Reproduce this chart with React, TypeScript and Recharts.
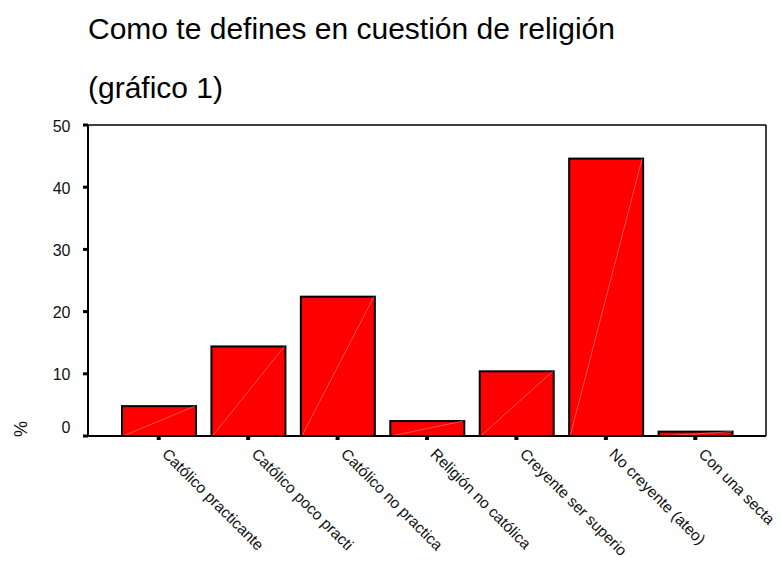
import React from 'react';
import { BarChart, Bar, XAxis, YAxis, CartesianGrid } from 'recharts';

const categories = [
  'Católico practicante',
  'Católico poco practi',
  'Católico no practica',
  'Religión no católica',
  'Creyente ser superio',
  'No creyente (ateo)',
  'Con una secta',
];
const percentages = [4.8, 14.4, 22.4, 2.4, 10.4, 44.6, 0.7];
const yTicks = [0, 10, 20, 30, 40, 50];
const titleLine1 = 'Como te defines en cuestión de religión';
const titleLine2 = '(gráfico 1)';
const yLabel = '%';

const data = categories.map((name, i) => ({ name, value: percentages[i] }));

const FONT = '"Liberation Sans", Arial, Helvetica, sans-serif';

const XTick = (props: any) => {
  const { x, y, payload } = props;
  const ax = x + 2.5;
  const ay = y + 13;
  return (
    <text
      x={ax}
      y={ay}
      transform={`rotate(45 ${ax} ${ay})`}
      textAnchor="start"
      fontSize={15.5}
      fontFamily={FONT}
      fill="#111"
    >
      {payload.value}
    </text>
  );
};

const YTick = (props: any) => {
  const { x, y, payload } = props;
  const dy = payload.value === 0 ? -9 : 1;
  return (
    <text
      x={x - 10.5}
      y={y + dy}
      textAnchor="end"
      dominantBaseline="central"
      fontSize={16}
      fontFamily={FONT}
      fill="#111"
    >
      {payload.value}
    </text>
  );
};

const BarShape = (props: any) => {
  const { x, y, width, height } = props;
  if (width == null || height == null) return null;
  return (
    <g>
      <rect x={x} y={y} width={width} height={height} fill="#ff0000" stroke="#000" strokeWidth={2} />
      <line
        x1={x + 1}
        y1={y + height}
        x2={x + width - 1}
        y2={y}
        stroke="#ff8a8a"
        strokeWidth={0.6}
      />
    </g>
  );
};

const topEdge = (p: any) => [p.offset.top];
const rightEdge = (p: any) => [p.offset.left + p.offset.width];

export default function App() {
  return (
    <div style={{ position: 'relative', width: 773, height: 553 }}>
      <BarChart
        width={773}
        height={553}
        data={data}
        margin={{ top: 117, right: 15, bottom: 0, left: 0 }}
      >
        <CartesianGrid
          stroke="#000"
          strokeWidth={1.5}
          strokeDasharray=""
          horizontalCoordinatesGenerator={topEdge}
          verticalCoordinatesGenerator={rightEdge}
        />
        <XAxis
          dataKey="name"
          interval={0}
          height={125}
          padding={{ left: 26, right: 26 }}
          tickSize={4}
          tickLine={{ stroke: '#000', strokeWidth: 4 }}
          axisLine={{ stroke: '#000', strokeWidth: 2 }}
          tick={<XTick />}
        />
        <YAxis
          width={80}
          domain={[0, 50]}
          ticks={yTicks}
          interval={0}
          tickSize={5}
          tickLine={{ stroke: '#000', strokeWidth: 3 }}
          axisLine={{ stroke: '#000', strokeWidth: 2 }}
          tick={<YTick />}
        />
        <Bar dataKey="value" barSize={74} shape={<BarShape />} isAnimationActive={false} />
      </BarChart>
      <svg
        width={773}
        height={553}
        style={{ position: 'absolute', left: 0, top: 0, pointerEvents: 'none' }}
      >
        <text x={80} y={31} fontSize={30} fontFamily={FONT} fill="#000">
          {titleLine1}
        </text>
        <text x={80} y={90} fontSize={30} fontFamily={FONT} fill="#000">
          {titleLine2}
        </text>
        <text
          x={12.5}
          y={421}
          transform="rotate(-90 12.5 421)"
          textAnchor="middle"
          dominantBaseline="central"
          fontSize={18}
          fontFamily={FONT}
          fill="#111"
        >
          {yLabel}
        </text>
      </svg>
    </div>
  );
}
